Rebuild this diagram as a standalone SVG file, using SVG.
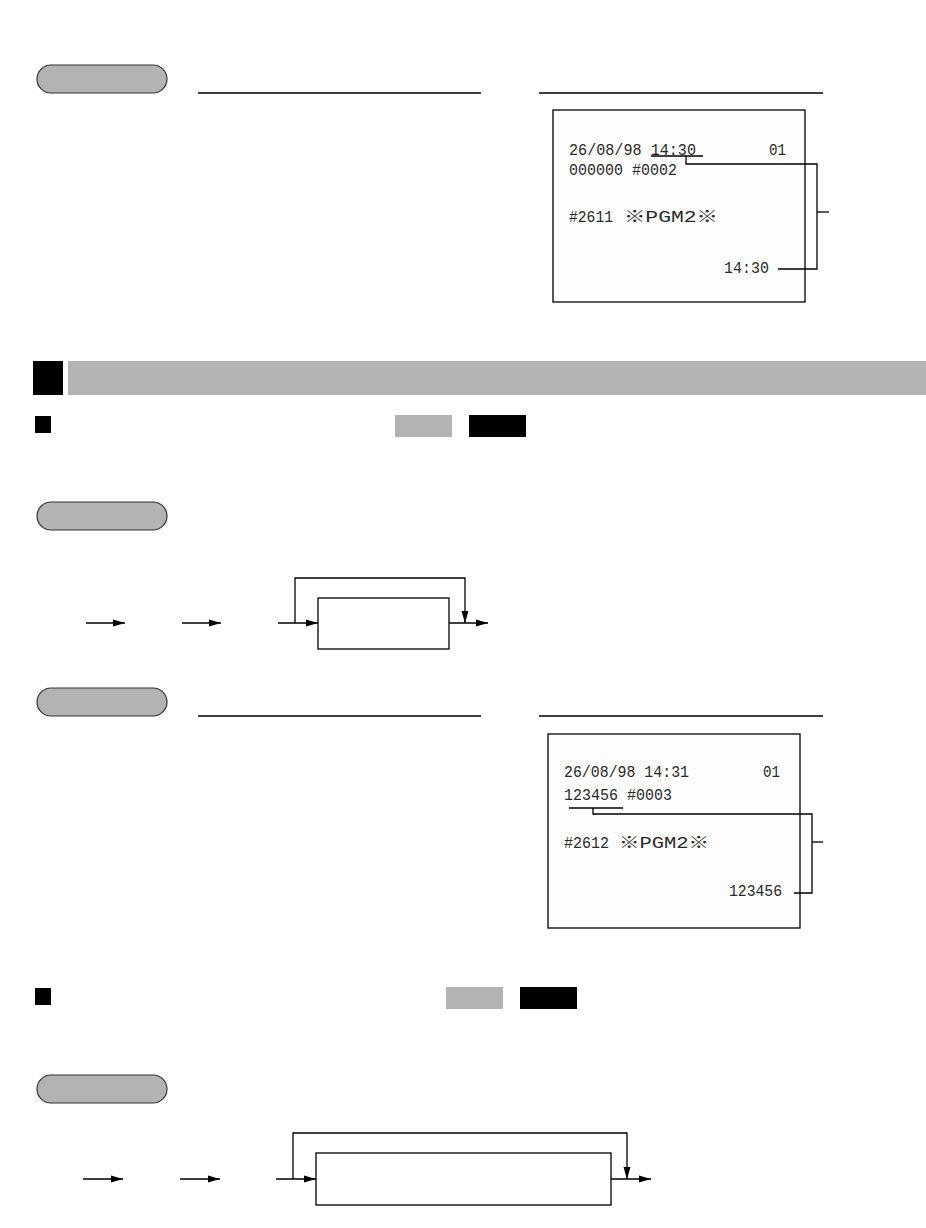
<svg xmlns="http://www.w3.org/2000/svg" width="926" height="1228" viewBox="0 0 926 1228">
<defs>
<style>
.pill{fill:#b3b3b3;stroke:#333;stroke-width:1.2}
.rule{stroke:#000;stroke-width:1.3;fill:none}
.box{fill:#fff;stroke:#000;stroke-width:1.3}
.rcpt{fill:#fdfdfd;stroke:#000;stroke-width:1.3}
.rt{font-family:"Liberation Mono","DejaVu Sans Mono",monospace;font-size:17px;fill:#2a2a2a}
.rw{font-family:"Liberation Mono","DejaVu Sans Mono","Noto Sans CJK JP",monospace;font-size:16px;fill:#2a2a2a}
.ln{stroke:#000;stroke-width:1.3;fill:none}
.gray{fill:#b3b3b3}
.blk{fill:#000}
</style>
<marker id="ah" markerUnits="userSpaceOnUse" markerWidth="13" markerHeight="9" refX="12" refY="4.5" orient="auto">
<path d="M0,1 L12,4.5 L0,8 Z" fill="#000"/>
</marker>
</defs>
<rect width="926" height="1228" fill="#fff"/>

<g id="pill1"><rect class="pill" x="37" y="65" width="130" height="28" rx="14"/></g>
<g id="rules1">
<line class="rule" x1="198" y1="93" x2="481" y2="93"/>
<line class="rule" x1="539" y1="93" x2="823" y2="93"/>
</g>
<g id="receipt1">
<rect class="rcpt" x="553" y="110" width="252" height="192"/>
<text class="rt" x="569" y="155" textLength="127" lengthAdjust="spacingAndGlyphs">26/08/98 14:30</text>
<text class="rt" x="769" y="155" textLength="17" lengthAdjust="spacingAndGlyphs">01</text>
<text class="rt" x="569" y="175" textLength="108" lengthAdjust="spacingAndGlyphs">000000 #0002</text>
<text class="rt" x="569" y="222" textLength="44" lengthAdjust="spacingAndGlyphs">#2611</text>
<text class="rw" x="624" y="222" textLength="94" lengthAdjust="spacingAndGlyphs">※PGM2※</text>
<text class="rt" x="724" y="273" textLength="45" lengthAdjust="spacingAndGlyphs">14:30</text>
</g>

<g id="section-bar">
<rect class="blk" x="33" y="361" width="30" height="34"/>
<rect class="gray" x="68" y="361" width="858" height="34"/>
</g>
<g id="header1">
<rect class="blk" x="35" y="416" width="16" height="17"/>
<rect class="gray" x="395" y="415" width="57" height="22"/>
<rect class="blk" x="469" y="415" width="57" height="22"/>
</g>

<g id="pill2"><rect class="pill" x="37" y="502" width="130" height="28" rx="14"/></g>
<g id="flow1-box"><rect class="box" x="318" y="598" width="131" height="51"/></g>

<g id="pill3"><rect class="pill" x="37" y="688" width="130" height="28" rx="14"/></g>
<g id="rules2">
<line class="rule" x1="198" y1="716" x2="481" y2="716"/>
<line class="rule" x1="539" y1="716" x2="823" y2="716"/>
</g>
<g id="receipt2">
<rect class="rcpt" x="548" y="734" width="252" height="194"/>
<text class="rt" x="564" y="777" textLength="125" lengthAdjust="spacingAndGlyphs">26/08/98 14:31</text>
<text class="rt" x="763" y="777" textLength="17" lengthAdjust="spacingAndGlyphs">01</text>
<text class="rt" x="564" y="800" textLength="108" lengthAdjust="spacingAndGlyphs">123456 #0003</text>
<text class="rt" x="564" y="848" textLength="45" lengthAdjust="spacingAndGlyphs">#2612</text>
<text class="rw" x="619" y="848" textLength="90" lengthAdjust="spacingAndGlyphs">※PGM2※</text>
<text class="rt" x="729" y="896" textLength="53" lengthAdjust="spacingAndGlyphs">123456</text>
</g>

<g id="header2">
<rect class="blk" x="35" y="988" width="16" height="17"/>
<rect class="gray" x="446" y="987" width="57" height="22"/>
<rect class="blk" x="520" y="987" width="57" height="22"/>
</g>

<g id="pill4"><rect class="pill" x="37" y="1075" width="130" height="28" rx="14"/></g>
<g id="flow2-box"><rect class="box" x="316" y="1153" width="295" height="52"/></g>

<g id="connectors">
<line class="ln" x1="651" y1="156" x2="703" y2="156"/>
<polyline class="ln" points="686,156 686,164 817,164 817,269 778,269"/>
<line class="ln" x1="817" y1="212" x2="829" y2="212"/>
<line class="ln" x1="569" y1="808" x2="623" y2="808"/>
<polyline class="ln" points="593,808 593,814 812,814 812,893 794,893"/>
<line class="ln" x1="812" y1="842" x2="823" y2="842"/>
<line class="ln" x1="86" y1="623" x2="125" y2="623" marker-end="url(#ah)"/>
<line class="ln" x1="182" y1="623" x2="221" y2="623" marker-end="url(#ah)"/>
<line class="ln" x1="278" y1="623" x2="318" y2="623" marker-end="url(#ah)"/>
<polyline class="ln" points="295,623 295,578 465,578 465,623" marker-end="url(#ah)"/>
<line class="ln" x1="449" y1="623" x2="488" y2="623" marker-end="url(#ah)"/>
<line class="ln" x1="83" y1="1179" x2="123" y2="1179" marker-end="url(#ah)"/>
<line class="ln" x1="180" y1="1179" x2="220" y2="1179" marker-end="url(#ah)"/>
<line class="ln" x1="276" y1="1179" x2="316" y2="1179" marker-end="url(#ah)"/>
<polyline class="ln" points="293,1179 293,1133 627,1133 627,1179" marker-end="url(#ah)"/>
<line class="ln" x1="611" y1="1179" x2="651" y2="1179" marker-end="url(#ah)"/>
</g>
</svg>
